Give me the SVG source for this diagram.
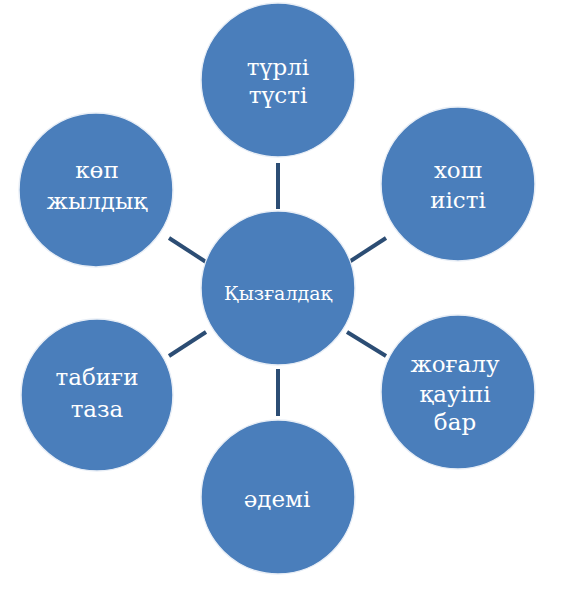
<svg xmlns="http://www.w3.org/2000/svg" width="579" height="607" viewBox="0 0 579 607">
<style>
.node circle{fill:#4a7ebb;stroke:#e8eef6;stroke-width:1.5}
.lbl{font-family:'DejaVu Serif','Liberation Serif',serif;font-size:23px;fill:#ffffff;text-anchor:middle}
.small{font-size:19px}
.conn line{stroke:#2c4d74;stroke-width:4;stroke-linecap:butt}
</style>
<rect width="579" height="607" fill="#ffffff"/>
<g id="connectors" class="conn">
<line x1="278" y1="163" x2="278" y2="209"/>
<line x1="278" y1="369" x2="278" y2="416"/>
<line x1="169" y1="238" x2="206" y2="262"/>
<line x1="349" y1="262" x2="386" y2="238"/>
<line x1="169" y1="356" x2="206" y2="332"/>
<line x1="347" y1="332" x2="386" y2="356"/>
</g>
<g id="center" class="node">
<circle cx="278" cy="288" r="77"/>
<text class="lbl small" x="278" y="300">Қызғалдақ</text>
</g>
<g id="top" class="node">
<circle cx="278" cy="80" r="77"/>
<text class="lbl" x="278" y="75">түрлі</text>
<text class="lbl" x="278" y="103">түсті</text>
</g>
<g id="upper-left" class="node">
<circle cx="96" cy="190" r="77"/>
<text class="lbl" x="97" y="178">көп</text>
<text class="lbl" x="97" y="209">жылдық</text>
</g>
<g id="upper-right" class="node">
<circle cx="458" cy="184" r="77"/>
<text class="lbl" x="458" y="178">хош</text>
<text class="lbl" x="458" y="208">иісті</text>
</g>
<g id="lower-left" class="node">
<circle cx="97" cy="395" r="76"/>
<text class="lbl" x="97" y="385">табиғи</text>
<text class="lbl" x="97" y="417">таза</text>
</g>
<g id="lower-right" class="node">
<circle cx="458" cy="392" r="77"/>
<text class="lbl" x="455" y="372">жоғалу</text>
<text class="lbl" x="455" y="402">қауіпі</text>
<text class="lbl" x="455" y="430">бар</text>
</g>
<g id="bottom" class="node">
<circle cx="278" cy="497" r="77"/>
<text class="lbl" x="277" y="507">әдемі</text>
</g>
</svg>
